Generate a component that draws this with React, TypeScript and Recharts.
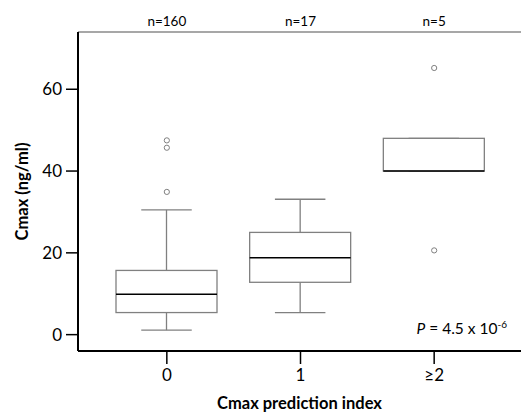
import React from 'react';
import { ComposedChart, Bar, Scatter, XAxis, YAxis } from 'recharts';

const categories = ['0', '1', '≥2'];
const counts = ['n=160', 'n=17', 'n=5'];
const whiskerLow = [1.1, 5.4, 40];
const q1 = [5.4, 12.8, 40];
const median = [9.9, 18.8, 40];
const q3 = [15.7, 25.0, 48];
const whiskerHigh = [30.5, 33.1, 48];
const outlierCats = ['0', '0', '0', '≥2', '≥2'];
const outlierValues = [47.5, 45.7, 34.9, 65.2, 20.6];
const yTicks = [0, 20, 40, 60];

const data = categories.map((cat, i) => ({
  cat,
  n: counts[i],
  lo: whiskerLow[i],
  q1: q1[i],
  med: median[i],
  q3: q3[i],
  hi: whiskerHigh[i],
}));
const outliers = outlierCats.map((cat, i) => ({ cat, v: outlierValues[i] }));

const FONT = 'Lato, "Open Sans", sans-serif';
const GRAY = '#808080';

const WhiskerShape = (props: any) => {
  const { x, y, width, height } = props;
  const top = Math.min(y, y + height);
  const bot = Math.max(y, y + height);
  const cx = x + width / 2;
  const cw = width / 4;
  return (
    <g>
      <line x1={cx} x2={cx} y1={top} y2={bot} stroke={GRAY} strokeWidth={1.3} />
      <line x1={cx - cw} x2={cx + cw} y1={top} y2={top} stroke={GRAY} strokeWidth={1.3} />
      <line x1={cx - cw} x2={cx + cw} y1={bot} y2={bot} stroke={GRAY} strokeWidth={1.3} />
    </g>
  );
};

const BoxShape = (props: any) => {
  const { x, y, width, height, payload } = props;
  const top = Math.min(y, y + height);
  const h = Math.abs(height);
  const my = top + ((payload.q3 - payload.med) / (payload.q3 - payload.q1)) * h;
  return (
    <g>
      <rect x={x} y={top} width={width} height={h} fill="#ffffff" stroke={GRAY} strokeWidth={1.3} />
      <line x1={x} x2={x + width} y1={my} y2={my} stroke="#000000" strokeWidth={1.5} />
    </g>
  );
};

const OutlierShape = (props: any) => {
  const { cx, cy } = props;
  return <circle cx={cx} cy={cy} r={2.6} fill="#ffffff" stroke={GRAY} strokeWidth={1} />;
};

export default function App() {
  return (
    <div style={{ position: 'absolute', left: 0, top: 0, background: '#fff' }}>
      <ComposedChart
        width={521}
        height={413}
        data={data}
        margin={{ top: 0, right: 0, bottom: 0, left: 0 }}
        barSize={101}
        barGap={-101}
        style={{ fontFamily: FONT }}
      >
        <XAxis
          dataKey="cat"
          allowDuplicatedCategory={false}
          padding={{ left: 22, right: 20 }}
          height={62}
          axisLine={{ stroke: '#000', strokeWidth: 2 }}
          tickLine={{ stroke: '#000', strokeWidth: 1.5 }}
          tickSize={13}
          tickMargin={5}
          tick={{ fill: '#000', fontSize: 17, fontFamily: FONT }}
          label={{
            value: 'Cmax prediction index',
            position: 'insideBottom',
            offset: 4,
            fill: '#000',
            fontSize: 16.5,
            fontWeight: 'bold',
            fontFamily: FONT,
          }}
        />
        <XAxis
          xAxisId="top"
          orientation="top"
          dataKey="cat"
          allowDuplicatedCategory={false}
          padding={{ left: 22, right: 20 }}
          height={32}
          axisLine={{ stroke: '#8a8a8a', strokeWidth: 1.5 }}
          tickLine={false}
          tickSize={0}
          tickMargin={6}
          tickFormatter={(_v: any, i: number) => counts[i]}
          tick={{ fill: '#000', fontSize: 13.5, fontFamily: FONT }}
        />
        <YAxis
          type="number"
          domain={[-4, 74]}
          ticks={yTicks}
          width={78}
          axisLine={{ stroke: '#000', strokeWidth: 2 }}
          tickLine={{ stroke: '#000', strokeWidth: 1.5 }}
          tickSize={12}
          tickMargin={4}
          tick={{ fill: '#000', fontSize: 17, fontFamily: FONT }}
          label={{
            value: 'Cmax (ng/ml)',
            angle: -90,
            position: 'insideLeft',
            offset: 22,
            fill: '#000',
            fontSize: 16.5,
            fontWeight: 'bold',
            fontFamily: FONT,
            style: { textAnchor: 'middle' },
          }}
        />
        <Bar
          dataKey={(d: any) => [d.lo, d.hi]}
          shape={WhiskerShape}
          isAnimationActive={false}
        />
        <Bar
          dataKey={(d: any) => [d.q1, d.q3]}
          shape={BoxShape}
          isAnimationActive={false}
        />
        <Scatter
          data={outliers}
          dataKey="v"
          shape={OutlierShape}
          isAnimationActive={false}
        />
        <text x={507} y={334} textAnchor="end" fontSize={15.5} fontFamily={FONT} fill="#000">
          <tspan fontStyle="italic">P</tspan>
          <tspan> = 4.5 x 10</tspan>
          <tspan dy={-6} fontSize={10}>-6</tspan>
        </text>
      </ComposedChart>
    </div>
  );
}
